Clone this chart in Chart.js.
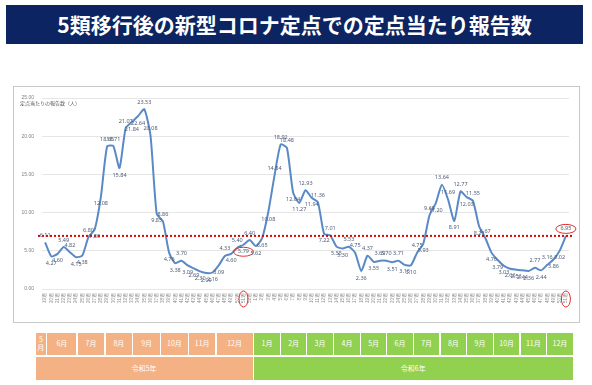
<!DOCTYPE html>
<html lang="ja">
<head>
<meta charset="utf-8">
<script src="https://cdn.jsdelivr.net/npm/chart.js@4.4.0/dist/chart.umd.min.js"></script>
<style>
  html, body { margin: 0; padding: 0; background: #fff; }
  body { width: 592px; height: 385px; position: relative; overflow: hidden; font-family: "Noto Sans CJK JP", "Noto Sans", sans-serif; }
  #title { position: absolute; left: 6px; top: 5px; width: 577px; height: 39px; background: #0c2461; color: #fff;
           font-weight: bold; font-size: 21px; line-height: 39px; text-align: center; }
  #box { position: absolute; left: 13px; top: 86px; width: 565px; height: 235px; border: 1px solid #c8c8c8; }
  #box canvas { position: absolute; left: 0; top: 0; }
  .cell { position: absolute; color: #fff; font-size: 7px; display: flex; align-items: center; justify-content: center;
          text-align: center; line-height: 1.05; }
  .cell span { display: block; }
</style>
</head>
<body>
<div id="title">5類移行後の新型コロナ定点での定点当たり報告数</div>
<div id="box"><canvas id="grafik" width="565" height="235"></canvas></div>
<div id="table"></div>
<script>
// 週番号 (2023年19週 〜 2024年51週)
const weeks = [19, 20, 21, 22, 23, 24, 25, 26, 27, 28, 29, 30, 31, 32, 33, 34, 35, 36, 37, 38, 39, 40,
  41, 42, 43, 44, 45, 46, 47, 48, 49, 50, 51, 52,
  1, 2, 3, 4, 5, 6, 7, 8, 9, 10, 11, 12, 13, 14, 15, 16, 17, 18, 19, 20, 21, 22, 23, 24, 25, 26,
  27, 28, 29, 30, 31, 32, 33, 34, 35, 36, 37, 38, 39, 40, 41, 42, 43, 44, 45, 46, 47, 48, 49, 50, 51];

// 定点当たり報告数
const reports = [6.11, 4.27, 4.60, 5.49, 4.82, 4.15, 4.38, 6.80, 7.80, 12.08, 18.65, 18.71, 15.84, 21.07, 21.84, 22.64, 23.53,
  20.08, 9.85, 8.86, 4.76, 3.38, 3.70, 3.09, 2.69, 2.30, 2.09, 2.16, 3.09, 4.33, 4.60, 5.40, 5.79, 6.40,
  5.62, 6.65, 10.08, 14.84,
  18.92, 18.48, 12.64, 11.27, 12.93, 11.94, 11.36, 7.22, 7.01, 5.55, 5.30, 5.53, 4.75, 2.36, 4.37, 3.55,
  3.69, 3.70, 3.51, 3.71, 3.15, 3.10, 4.75, 5.93, 9.65, 11.20, 13.64, 11.69, 8.91, 12.77, 12.03, 11.55,
  8.21, 6.67, 4.76, 3.79, 3.03, 2.66, 2.53, 2.44, 2.36, 2.77, 2.44, 3.16, 3.86, 5.02, 6.95];

const refLevel = 6.95;            // 最新週の値 (赤点線)
const highlight = [32, 84];       // 前年同週と最新週
const yTicks = [0, 5, 10, 15, 20, 25];
const yTitle = "定点当たりの報告数（人）";

// 下の月表
const months2023 = ["5\n月", "6月", "7月", "8月", "9月", "10月", "11月", "12月"];
const months2024 = ["1月", "2月", "3月", "4月", "5月", "6月", "7月", "8月", "9月", "10月", "11月", "12月"];
const eras = ["令和5年", "令和6年"];

// 表のレイアウト (px)
const monthEdges = [35, 46.7, 77, 105, 132.7, 160.7, 188.3, 216, 253.3, 280.7, 306.7, 333.3, 360.7,
  386.7, 413.3, 440, 466.7, 493.3, 520, 546.7, 573.3];

function buatTabel() {
  const tbl = document.getElementById("table");
  const allMonths = months2023.concat(months2024);
  allMonths.forEach((m, i) => {
    const d = document.createElement("div");
    d.className = "cell";
    d.style.left = (monthEdges[i] + 0.7) + "px";
    d.style.width = (monthEdges[i + 1] - monthEdges[i] - 1.4) + "px";
    d.style.top = "332.5px";
    d.style.height = "22.5px";
    d.style.background = i < months2023.length ? "#f4b183" : "#92d050";
    d.innerHTML = "<span>" + m.replace("\n", "<br>") + "</span>";
    tbl.appendChild(d);
  });
  const split = months2023.length;
  [[0, split], [split, allMonths.length]].forEach((r, k) => {
    const d = document.createElement("div");
    d.className = "cell";
    d.style.left = (monthEdges[r[0]] + 0.7) + "px";
    d.style.width = (monthEdges[r[1]] - monthEdges[r[0]] - 1.4) + "px";
    d.style.top = "356.5px";
    d.style.height = "23.5px";
    d.style.background = k === 0 ? "#f4b183" : "#92d050";
    d.textContent = eras[k];
    tbl.appendChild(d);
  });
}

function elips(ctx, x, y, rx, ry) {
  ctx.beginPath();
  ctx.ellipse(x, y, rx, ry, 0, 0, Math.PI * 2);
  ctx.stroke();
}

// 赤点線・データラベル・軸タイトル・丸印
const overlay = {
  id: "overlay",
  afterDatasetsDraw(chart) {
    const { ctx, chartArea, scales: { x, y } } = chart;
    const meta = chart.getDatasetMeta(0);
    ctx.save();

    const yr = y.getPixelForValue(refLevel);
    ctx.strokeStyle = "#e00000";
    ctx.lineWidth = 2;
    ctx.setLineDash([2, 2]);
    ctx.beginPath();
    ctx.moveTo(chartArea.left - 4, yr);
    ctx.lineTo(chartArea.right + 3, yr);
    ctx.stroke();
    ctx.setLineDash([]);

    ctx.font = '5.5px "Noto Sans"';
    ctx.fillStyle = "#4d5c78";
    ctx.textAlign = "center";
    ctx.textBaseline = "middle";
    ctx.strokeStyle = "#e03030";
    ctx.lineWidth = 1;
    meta.data.forEach((pt, i) => {
      const v = reports[i];
      const prev = i > 0 ? reports[i - 1] : v;
      const next = i < reports.length - 1 ? reports[i + 1] : v;
      const bawah = v < (prev + next) / 2;
      const ly = bawah ? pt.y + 7 : pt.y - 7;
      ctx.fillText(v.toFixed(2), pt.x, ly);
      if (highlight.includes(i)) elips(ctx, pt.x, ly, 10, 4.5);
    });

    highlight.forEach(i => {
      elips(ctx, x.getPixelForValue(i), chartArea.bottom + 10, 4.5, 8);
    });

    ctx.font = '5px "Noto Sans CJK JP"';
    ctx.fillStyle = "#595959";
    ctx.textAlign = "left";
    ctx.fillText(yTitle, 6, 16);
    ctx.restore();
  }
};

buatTabel();

new Chart(document.getElementById("grafik"), {
  type: "line",
  data: {
    labels: weeks.map(w => w + "週"),
    datasets: [{
      data: reports,
      borderColor: "#5a8ac6",
      borderWidth: 2,
      pointRadius: 0,
      tension: 0.2,
      fill: false
    }]
  },
  options: {
    responsive: false,
    animation: false,
    layout: { padding: { left: 0, right: 10, top: 2, bottom: 0 } },
    plugins: { legend: { display: false }, tooltip: { enabled: false } },
    scales: {
      x: {
        offset: true,
        grid: { display: false, drawTicks: false },
        border: { display: false },
        ticks: { autoSkip: false, minRotation: 90, maxRotation: 90, font: { size: 4.5 }, color: "#8c8c8c", padding: 4 },
        afterFit(s) { s.height = 33; }
      },
      y: {
        min: 0, max: 25,
        grid: { color: "#e6e6e6", drawTicks: false },
        border: { display: false },
        ticks: { padding: 8, font: { size: 5 }, color: "#7f7f7f", callback: v => Number(v).toFixed(2) },
        afterBuildTicks(s) { s.ticks = yTicks.map(v => ({ value: v })); },
        afterFit(s) { s.width = 28; }
      }
    }
  },
  plugins: [overlay]
});
</script>
</body>
</html>
